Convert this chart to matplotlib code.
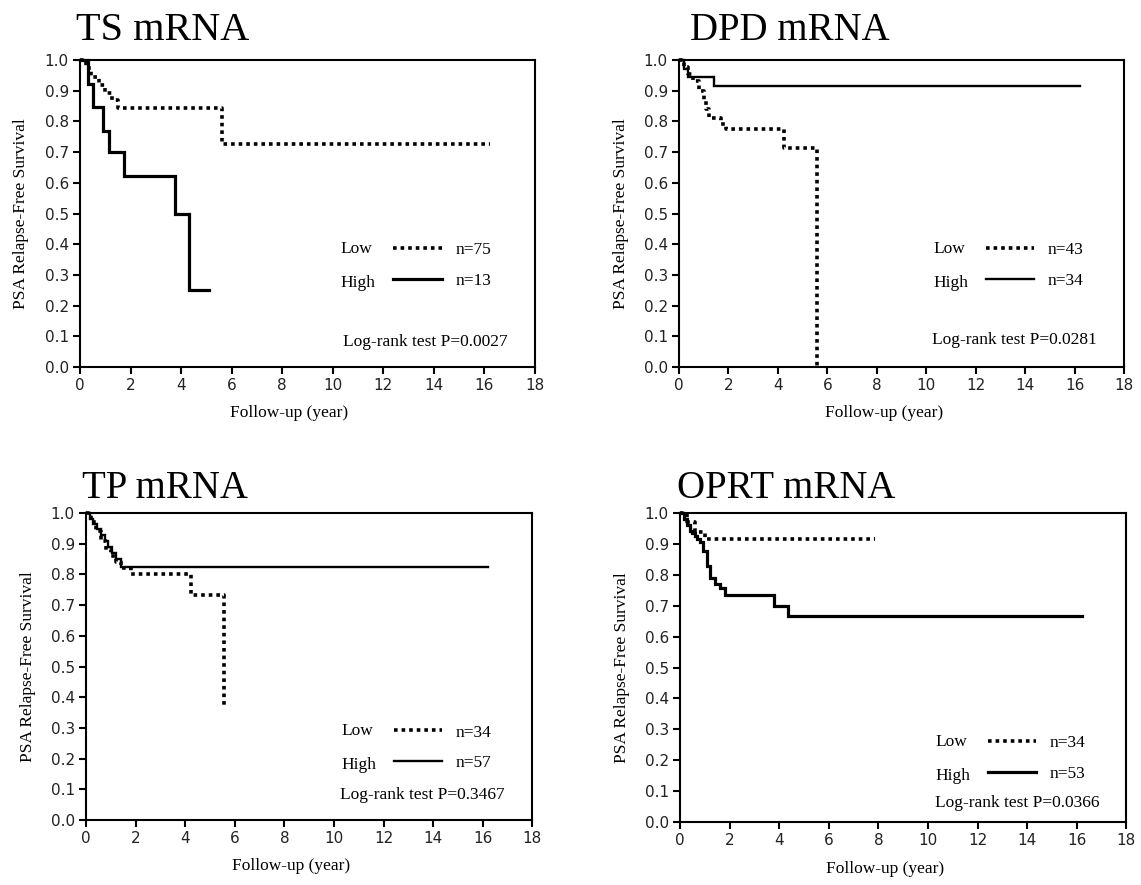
import numpy as np
import matplotlib.pyplot as plt
from matplotlib.ticker import MultipleLocator, FormatStrFormatter

# ---- data (time in years, survival fraction) ----
# TS mRNA
ts_low_t = [0, 0.25, 0.45, 0.75, 1.0, 1.25, 1.5, 5.6, 16.2]
ts_low_s = [1.0, 0.973, 0.946, 0.92, 0.893, 0.87, 0.845, 0.728, 0.728]
ts_high_t = [0, 0.3, 0.5, 0.9, 1.15, 1.75, 3.75, 4.3, 5.1]
ts_high_s = [1.0, 0.923, 0.846, 0.769, 0.70, 0.622, 0.5, 0.25, 0.25]

# DPD mRNA
dpd_low_t = [0, 0.2, 0.35, 0.55, 0.8, 1.0, 1.1, 1.2, 1.7, 1.9, 4.25, 5.57]
dpd_low_s = [1.0, 0.977, 0.953, 0.93, 0.90, 0.87, 0.84, 0.81, 0.79, 0.775, 0.712, 0.0]
dpd_high_t = [0, 0.2, 0.35, 1.42, 16.2]
dpd_high_s = [1.0, 0.97, 0.945, 0.915, 0.915]

# TP mRNA
tp_low_t = [0, 0.2, 0.4, 0.6, 0.8, 1.0, 1.2, 1.4, 1.8, 4.25, 5.55]
tp_low_s = [1.0, 0.97, 0.94, 0.91, 0.88, 0.86, 0.84, 0.82, 0.80, 0.733, 0.37]
tp_high_t = [0, 0.15, 0.3, 0.45, 0.6, 0.75, 0.9, 1.05, 1.2, 1.4, 16.2]
tp_high_s = [1.0, 0.982, 0.965, 0.947, 0.93, 0.91, 0.89, 0.87, 0.85, 0.825, 0.825]

# OPRT mRNA
oprt_low_t = [0, 0.3, 0.6, 1.0, 7.86]
oprt_low_s = [1.0, 0.97, 0.94, 0.915, 0.915]
oprt_high_t = [0, 0.15, 0.3, 0.4, 0.5, 0.6, 0.7, 0.8, 0.94, 1.07, 1.2, 1.4, 1.6, 1.81, 3.8, 4.37, 16.2]
oprt_high_s = [1.0, 0.981, 0.962, 0.943, 0.934, 0.925, 0.915, 0.905, 0.877, 0.83, 0.79, 0.77, 0.756, 0.735, 0.70, 0.666, 0.666]

titles = ['TS mRNA', 'DPD mRNA', 'TP mRNA', 'OPRT mRNA']
n_low = [75, 43, 34, 34]
n_high = [13, 34, 57, 53]
p_values = ['0.0027', '0.0281', '0.3467', '0.0366']

curves = [(ts_low_t, ts_low_s, ts_high_t, ts_high_s),
          (dpd_low_t, dpd_low_s, dpd_high_t, dpd_high_s),
          (tp_low_t, tp_low_s, tp_high_t, tp_high_s),
          (oprt_low_t, oprt_low_s, oprt_high_t, oprt_high_s)]

# ---- layout (figure fractions) ----
positions = [[0.0701, 0.5853, 0.3988, 0.3469],
             [0.5951, 0.5853, 0.3900, 0.3469],
             [0.0754, 0.0734, 0.3912, 0.3469],
             [0.5960, 0.0712, 0.3912, 0.3491]]
title_xy = [(0.0670, 0.955), (0.6050, 0.955), (0.0720, 0.437), (0.5935, 0.437)]
title_size = [29, 28, 28, 28]
high_lw = [2.3, 1.7, 1.7, 2.3]
leg_center = [0.33, 0.33, 0.235, 0.205]
p_y = [0.08, 0.088, 0.08, 0.06]

serif = 'Liberation Serif'

fig = plt.figure(figsize=(11.41, 8.85), dpi=100)

for i in range(4):
    ax = fig.add_axes(positions[i])
    lt, ls, ht, hs = curves[i]
    low_line, = ax.step(lt, ls, where='post', color='black', lw=2.6,
                        linestyle=(0, (1, 1.1)), dash_capstyle='butt', clip_on=False)
    high_line, = ax.step(ht, hs, where='post', color='black', lw=high_lw[i],
                         solid_joinstyle='miter', clip_on=False)

    ax.set_xlim(0, 18)
    ax.set_ylim(0, 1.0)
    ax.xaxis.set_major_locator(MultipleLocator(2))
    ax.yaxis.set_major_locator(MultipleLocator(0.1))
    ax.yaxis.set_major_formatter(FormatStrFormatter('%.1f'))
    ax.tick_params(direction='out', length=5, width=1.5, labelsize=11,
                   labelcolor='#222222', pad=3)
    for sp in ax.spines.values():
        sp.set_linewidth(1.5)

    ax.set_ylabel('PSA Relapse-Free Survival', family=serif, fontsize=12.5)
    ax.yaxis.set_label_coords(-0.112, 0.5)
    ax.set_xlabel('Follow-up (year)', family=serif, fontsize=12.5)
    ax.xaxis.set_label_coords(0.46, -0.125)

    fig.text(title_xy[i][0], title_xy[i][1], titles[i], family=serif,
             fontsize=title_size[i], va='baseline', ha='left')

    # legend: handle + n=, with Low/High written to the left
    leg = ax.legend([low_line, high_line], ['n=%d' % n_low[i], 'n=%d' % n_high[i]],
                    loc='center left', bbox_to_anchor=(12.4, leg_center[i]),
                    bbox_transform=ax.transData, frameon=False,
                    prop={'family': serif, 'size': 12.5},
                    borderpad=0, borderaxespad=0, handlelength=2.8,
                    handletextpad=0.8, labelspacing=0.85)
    ax.text(10.3, leg_center[i] + 0.055, 'Low', family=serif, fontsize=12.5,
            ha='left', va='center')
    ax.text(10.3, leg_center[i] - 0.055, 'High', family=serif, fontsize=12.5,
            ha='left', va='center')
    ax.text(16.9, p_y[i], 'Log-rank test P=%s' % p_values[i], family=serif,
            fontsize=12.5, ha='right', va='center')

plt.savefig('out.png', dpi=100)
